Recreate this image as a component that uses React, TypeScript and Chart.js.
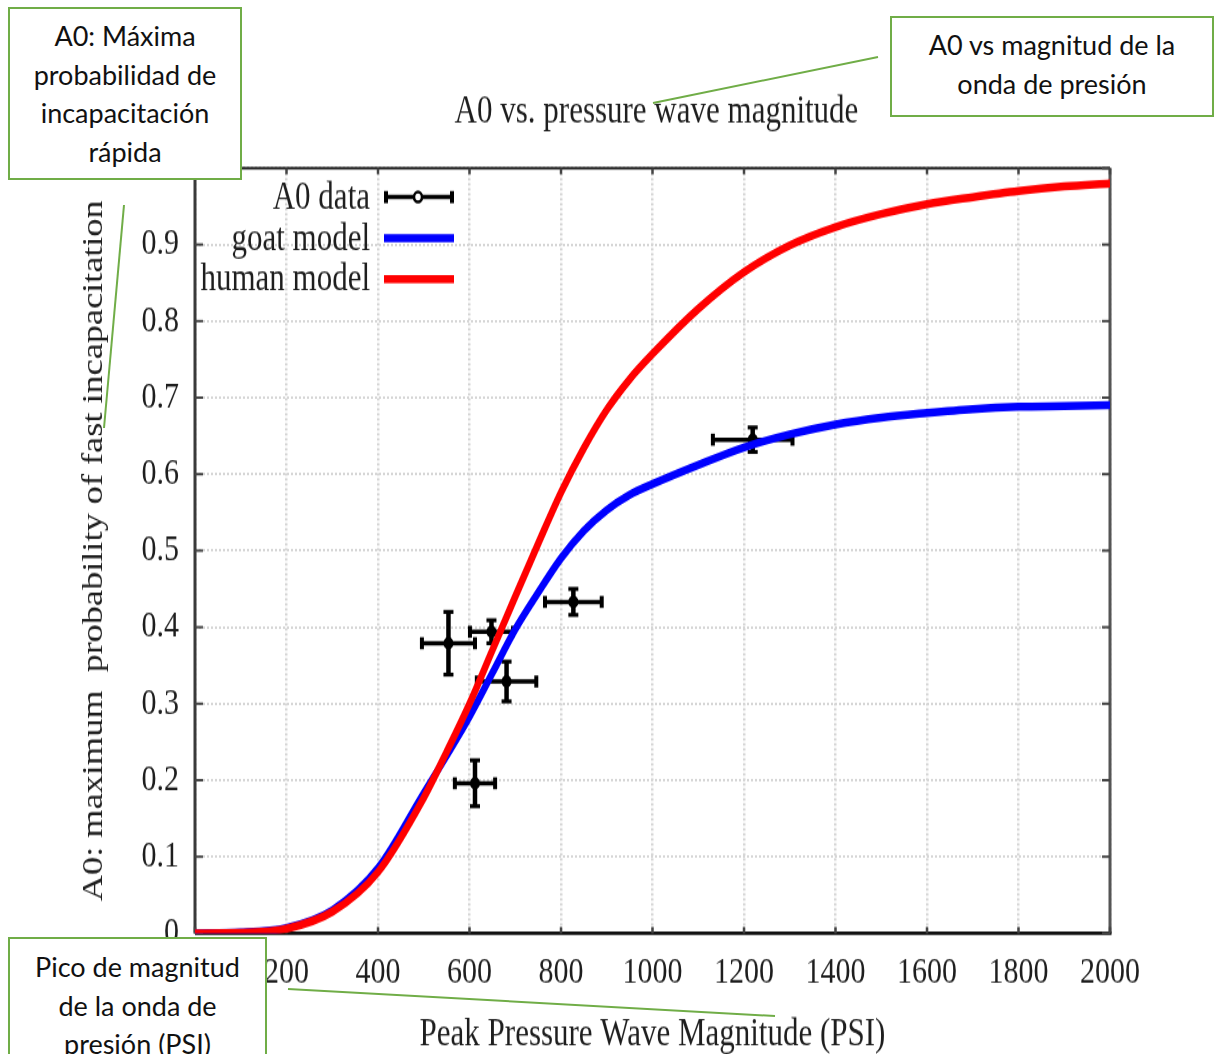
import React, { useEffect, useRef } from 'react';
import { Chart, registerables } from 'chart.js';

Chart.register(...registerables);

// ---------- data ----------
const PSI = [0, 100, 200, 300, 400, 500, 550, 600, 650, 700, 750, 800, 850, 900, 950, 1000, 1100, 1200, 1300, 1400, 1500, 1600, 1700, 1800, 1900, 2000];
const HUMAN_MODEL = [0, 0.0005, 0.006, 0.028, 0.08, 0.177, 0.237, 0.3, 0.37, 0.44, 0.509, 0.576, 0.634, 0.684, 0.724, 0.757, 0.816, 0.864, 0.899, 0.923, 0.94, 0.953, 0.962, 0.97, 0.976, 0.98];
const GOAT_MODEL = [0, 0.001, 0.007, 0.03, 0.085, 0.183, 0.232, 0.283, 0.34, 0.397, 0.445, 0.49, 0.526, 0.553, 0.573, 0.587, 0.612, 0.635, 0.652, 0.665, 0.674, 0.68, 0.685, 0.688, 0.689, 0.69];

const A0_PSI = [554, 648, 681, 612, 827, 1219];
const A0_VALUE = [0.379, 0.394, 0.329, 0.196, 0.433, 0.645];
const A0_PSI_ERR = [58, 47, 65, 44, 62, 87];
const A0_VALUE_ERR = [0.041, 0.015, 0.026, 0.03, 0.017, 0.016];

const X_TICKS = [0, 200, 400, 600, 800, 1000, 1200, 1400, 1600, 1800, 2000];
const Y_TICKS = [0, 0.1, 0.2, 0.3, 0.4, 0.5, 0.6, 0.7, 0.8, 0.9, 1];

const TITLE = 'A0 vs. pressure wave magnitude';
const X_TITLE = 'Peak Pressure Wave Magnitude (PSI)';
const Y_TITLE = 'A0: maximum  probability of fast incapacitation';
const LEGEND_LABELS = ['A0 data', 'goat model', 'human model'];

const NOTE_TOP_LEFT = ['A0: Máxima', 'probabilidad de', 'incapacitación', 'rápida'];
const NOTE_TOP_RIGHT = ['A0 vs magnitud de la', 'onda de presión'];
const NOTE_BOTTOM_LEFT = ['Pico de magnitud', 'de la onda de', 'presión (PSI)'];

// ---------- layout ----------
const W = 1214;
const H = 1054;
const STRETCH = 1.25;
const CH = Math.round(H / STRETCH);
const SERIF = "'Liberation Serif', 'Times New Roman', serif";
const TEXT = '#1e1e1e';
const GREEN = '#70AD47';

const decorPlugin = {
  id: 'decor',
  beforeDatasetsDraw(chart: any) {
    const { ctx, chartArea, scales } = chart;
    const { left, right, top, bottom } = chartArea;
    const xs = scales.x;
    const ys = scales.y;
    const line = (x1: number, y1: number, x2: number, y2: number) => {
      ctx.beginPath();
      ctx.moveTo(x1, y1);
      ctx.lineTo(x2, y2);
      ctx.stroke();
    };
    ctx.save();
    // frame
    ctx.lineCap = 'butt';
    ctx.strokeStyle = '#111';
    ctx.lineWidth = 2;
    line(left, top, right, top);
    ctx.strokeStyle = '#555';
    ctx.lineWidth = 3;
    line(right, top, right, bottom);
    ctx.strokeStyle = '#3a3a3a';
    line(left, top - 1, left, bottom);
    ctx.strokeStyle = '#111';
    ctx.lineWidth = 2.6;
    line(left, bottom, right + 1.5, bottom);
    // inward ticks
    ctx.strokeStyle = '#444';
    ctx.lineWidth = 2.5;
    X_TICKS.forEach((v) => {
      const px = xs.getPixelForValue(v);
      line(px, bottom, px, bottom - 5);
      line(px, top, px, top + 5);
    });
    ctx.lineWidth = 2;
    Y_TICKS.forEach((v) => {
      const py = ys.getPixelForValue(v);
      line(left, py, left + 8, py);
      line(right, py, right - 8, py);
    });
    // error bars
    ctx.strokeStyle = '#000';
    A0_PSI.forEach((v, i) => {
      const px = xs.getPixelForValue(v);
      const py = ys.getPixelForValue(A0_VALUE[i]);
      const x1 = xs.getPixelForValue(v - A0_PSI_ERR[i]);
      const x2 = xs.getPixelForValue(v + A0_PSI_ERR[i]);
      const y1 = ys.getPixelForValue(A0_VALUE[i] - A0_VALUE_ERR[i]);
      const y2 = ys.getPixelForValue(A0_VALUE[i] + A0_VALUE_ERR[i]);
      ctx.lineWidth = 3.5;
      line(x1, py, x2, py);
      ctx.lineWidth = 4.5;
      line(px, y1, px, y2);
      ctx.lineWidth = 4;
      line(x1, py - 4.8, x1, py + 4.8);
      line(x2, py - 4.8, x2, py + 4.8);
      ctx.lineWidth = 3.2;
      line(px - 5, y1, px + 5, y1);
      line(px - 5, y2, px + 5, y2);
    });
    ctx.restore();
  },
  afterDatasetsDraw(chart: any) {
    const { ctx, chartArea } = chart;
    ctx.save();
    // title
    ctx.fillStyle = TEXT;
    ctx.font = `31px ${SERIF}`;
    ctx.textAlign = 'center';
    ctx.textBaseline = 'middle';
    ctx.fillText(TITLE, (chartArea.left + chartArea.right) / 2 + 4, 112 / STRETCH);
    // legend
    const rows = [197, 238, 279].map((v) => v / STRETCH);
    const colors = ['#000', '#0000ff', '#ff0000'];
    ctx.textAlign = 'right';
    LEGEND_LABELS.forEach((lab, i) => {
      ctx.fillStyle = TEXT;
      ctx.font = `31px ${SERIF}`;
      ctx.fillText(lab, 370, rows[i] + 1);
      ctx.strokeStyle = colors[i];
      if (i === 0) {
        ctx.lineWidth = 3.5;
        ctx.beginPath();
        ctx.moveTo(386, rows[i]);
        ctx.lineTo(452, rows[i]);
        ctx.stroke();
        ctx.lineWidth = 4;
        ctx.beginPath();
        ctx.moveTo(386, rows[i] - 4.8);
        ctx.lineTo(386, rows[i] + 4.8);
        ctx.moveTo(452, rows[i] - 4.8);
        ctx.lineTo(452, rows[i] + 4.8);
        ctx.stroke();
        ctx.lineWidth = 2.5;
        ctx.fillStyle = '#fff';
        ctx.beginPath();
        ctx.arc(418, rows[i], 4, 0, Math.PI * 2);
        ctx.fill();
        ctx.stroke();
      } else {
        ctx.lineWidth = 6.5;
        ctx.beginPath();
        ctx.moveTo(384, rows[i]);
        ctx.lineTo(454, rows[i]);
        ctx.stroke();
      }
    });
    ctx.restore();
  },
};

function Note({ lines, left, top, width, height, padTop }: any) {
  return (
    <div
      style={{
        position: 'absolute',
        left,
        top,
        width,
        height,
        boxSizing: 'border-box',
        border: `2.5px solid ${GREEN}`,
        background: '#fff',
        paddingTop: padTop,
        fontFamily: "Lato, 'Open Sans', sans-serif",
        fontSize: 27,
        lineHeight: '38.7px',
        color: '#111',
        textAlign: 'center',
        whiteSpace: 'nowrap',
      }}
    >
      {lines.map((l: string, i: number) => (
        <div key={i}>{l}</div>
      ))}
    </div>
  );
}

export default function App() {
  const canvasRef = useRef<HTMLCanvasElement | null>(null);

  useEffect(() => {
    const canvas = canvasRef.current;
    if (!canvas) return;
    const chart = new Chart(canvas, {
      type: 'line',
      data: {
        datasets: [
          {
            label: 'human model',
            data: PSI.map((p, i) => ({ x: p, y: HUMAN_MODEL[i] })),
            borderColor: '#ff0000',
            backgroundColor: '#ff0000',
            borderWidth: 6.5,
            pointRadius: 0,
            cubicInterpolationMode: 'monotone',
            fill: false,
          },
          {
            label: 'goat model',
            data: PSI.map((p, i) => ({ x: p, y: GOAT_MODEL[i] })),
            borderColor: '#0000ff',
            backgroundColor: '#0000ff',
            borderWidth: 6.5,
            pointRadius: 0,
            cubicInterpolationMode: 'monotone',
            fill: false,
          },
          {
            label: 'A0 data',
            data: A0_PSI.map((p, i) => ({ x: p, y: A0_VALUE[i] })),
            showLine: false,
            borderColor: '#000',
            backgroundColor: '#000',
            pointRadius: 5,
            pointBorderWidth: 0,
          },
        ],
      } as any,
      options: {
        responsive: false,
        animation: false,
        devicePixelRatio: 1,
        events: [],
        layout: { padding: { top: 168 / STRETCH, left: 0, right: W - 1110, bottom: 0 } },
        plugins: {
          legend: { display: false },
          title: { display: false },
          tooltip: { enabled: false },
        },
        scales: {
          x: {
            type: 'linear',
            min: 0,
            max: 2000,
            afterBuildTicks: (s: any) => {
              s.ticks = X_TICKS.map((v) => ({ value: v }));
            },
            afterFit: (s: any) => {
              s.height = CH - 933 / STRETCH;
            },
            ticks: {
              autoSkip: false,
              maxRotation: 0,
              padding: 14,
              color: TEXT,
              font: { family: SERIF, size: 30 },
              callback: (v: any) => String(v),
            },
            grid: { drawTicks: false, color: '#d6d6d6', lineWidth: 2.5 },
            border: { display: false, dash: [2, 2] },
            title: {
              display: true,
              text: X_TITLE,
              color: TEXT,
              font: { family: SERIF, size: 31 },
              padding: { top: 0, bottom: -3 },
            },
          },
          y: {
            type: 'linear',
            min: 0,
            max: 1,
            afterBuildTicks: (s: any) => {
              s.ticks = Y_TICKS.map((v) => ({ value: v }));
            },
            afterFit: (s: any) => {
              s.width = 195;
            },
            ticks: {
              padding: 16,
              color: TEXT,
              font: { family: SERIF, size: 30 },
              callback: (v: any) => String(v),
            },
            grid: { drawTicks: false, color: '#d6d6d6', lineWidth: 2 },
            border: { display: false, dash: [2, 2] },
            title: {
              display: true,
              text: Y_TITLE,
              color: TEXT,
              font: { family: SERIF, size: 29 },
              padding: { top: 77, bottom: 0 },
            },
          },
        },
      } as any,
      plugins: [decorPlugin],
    });
    return () => chart.destroy();
  }, []);

  return (
    <div style={{ position: 'absolute', left: 0, top: 0, width: W, height: H, overflow: 'hidden', background: '#fff' }}>
      <canvas
        ref={canvasRef}
        width={W}
        height={CH}
        style={{ position: 'absolute', left: 0, top: 0, width: W, height: H }}
      />
      <svg width={W} height={H} style={{ position: 'absolute', left: 0, top: 0 }}>
        <line x1={878} y1={57} x2={653} y2={103} stroke={GREEN} strokeWidth={2} />
        <line x1={124} y1={205} x2={104} y2={428} stroke={GREEN} strokeWidth={2} />
        <line x1={288} y1={989} x2={775} y2={1016} stroke={GREEN} strokeWidth={2} />
      </svg>
      <Note lines={NOTE_TOP_LEFT} left={8} top={7} width={234} height={173} padTop={8} />
      <Note lines={NOTE_TOP_RIGHT} left={890} top={16} width={324} height={101} padTop={8} />
      <Note lines={NOTE_BOTTOM_LEFT} left={8} top={937} width={259} height={130} padTop={9} />
    </div>
  );
}
